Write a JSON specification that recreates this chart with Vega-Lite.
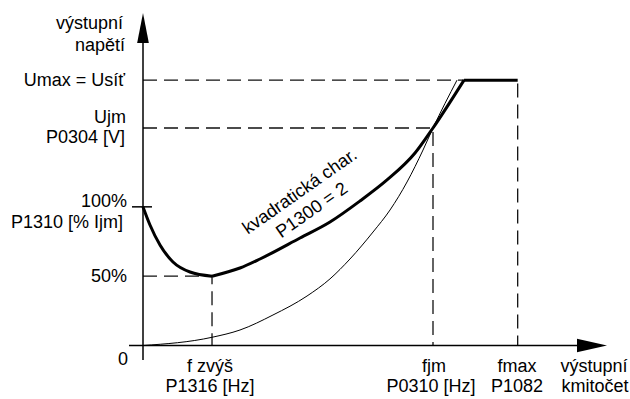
{
  "$schema": "https://vega.github.io/schema/vega-lite/v6.json",
  "width": 464,
  "height": 326.25,
  "autosize": {"type": "none"},
  "padding": {"left": 143, "top": 19.25, "right": 23, "bottom": 53.5},
  "background": "white",
  "config": {"view": {"stroke": null}, "text": {"font": "Liberation Sans", "fontSize": 18, "color": "black"}},
  "datasets": {
    "guides": [
      {"g": "umax", "o": 1, "f": 0, "u": 488},
      {"g": "umax", "o": 2, "f": 64.6, "u": 488},
      {"g": "umax", "o": 3, "f": 64.6, "u": 0},
      {"g": "ujm", "o": 1, "f": 0, "u": 400},
      {"g": "ujm", "o": 2, "f": 50, "u": 400},
      {"g": "ujm", "o": 3, "f": 50, "u": 0},
      {"g": "boost", "o": 1, "f": 0, "u": 127.5},
      {"g": "boost", "o": 2, "f": 11.9, "u": 127.5},
      {"g": "boost", "o": 3, "f": 11.9, "u": 0}
    ],
    "axes": [
      {"g": "yaxis", "o": 1, "f": 0, "u": -26.7},
      {"g": "yaxis", "o": 2, "f": 0, "u": 560},
      {"g": "xaxis", "o": 1, "f": -2.41, "u": 0},
      {"g": "xaxis", "o": 2, "f": 75.5, "u": 0},
      {"g": "tick", "o": 1, "f": -1.9, "u": 255},
      {"g": "tick", "o": 2, "f": 1.55, "u": 255}
    ],
    "thin": [
      {"f": 0, "u": 0},
      {"f": 11.9, "u": 15.1},
      {"f": 16.72, "u": 28.5},
      {"f": 22.41, "u": 56.1},
      {"f": 28.28, "u": 91},
      {"f": 32.24, "u": 122.5},
      {"f": 35.69, "u": 159.1},
      {"f": 39.66, "u": 208.7},
      {"f": 42.59, "u": 249.2},
      {"f": 45.52, "u": 300.7},
      {"f": 48.28, "u": 359.5},
      {"f": 50, "u": 400},
      {"f": 54.14, "u": 488}
    ],
    "thick": [
      {"seg": "A", "f": 0, "u": 255},
      {"seg": "A", "f": 1.207, "u": 221.6},
      {"seg": "A", "f": 2.931, "u": 184.8},
      {"seg": "A", "f": 5.172, "u": 153.6},
      {"seg": "A", "f": 8.103, "u": 135.2},
      {"seg": "A", "f": 11.9, "u": 127.5},
      {"seg": "B", "f": 11.9, "u": 127.5},
      {"seg": "B", "f": 16.72, "u": 142.5},
      {"seg": "B", "f": 20.17, "u": 159.1},
      {"seg": "B", "f": 27.07, "u": 197.7},
      {"seg": "B", "f": 32.24, "u": 227.1},
      {"seg": "B", "f": 37.41, "u": 265.7},
      {"seg": "B", "f": 42.07, "u": 304.4},
      {"seg": "B", "f": 46.9, "u": 354},
      {"seg": "B", "f": 50, "u": 400},
      {"seg": "B", "f": 55.35, "u": 488},
      {"seg": "C", "f": 55.35, "u": 488},
      {"seg": "C", "f": 64.6, "u": 488}
    ],
    "yarrow": [{"f": 0, "u": 583.9}],
    "xarrow": [{"f": 77.41, "u": 0}],
    "ylabels": [
      {"t": "výstupní", "f": -3.45, "u": 582.1},
      {"t": "napětí", "f": -3.1, "u": 541.6},
      {"t": "Umax = Usíť", "f": -3.1, "u": 477.2},
      {"t": "Ujm", "f": -2.93, "u": 409.2},
      {"t": "P0304 [V]", "f": -3.1, "u": 372.4},
      {"t": "100%", "f": -2.76, "u": 253.8},
      {"t": "P1310 [% Ijm]", "f": -3.45, "u": 217.0},
      {"t": "50%", "f": -2.76, "u": 117.3},
      {"t": "0", "f": -2.59, "u": -35.9}
    ],
    "xlabels": [
      {"t": "f zvýš", "f": 11.55, "u": -48.7},
      {"t": "P1316 [Hz]", "f": 11.55, "u": -85.5},
      {"t": "fjm", "f": 50.17, "u": -48.7},
      {"t": "P0310 [Hz]", "f": 49.66, "u": -85.5},
      {"t": "fmax", "f": 64.48, "u": -48.7},
      {"t": "P1082", "f": 64.48, "u": -85.5},
      {"t": "výstupní", "f": 77.76, "u": -48.7},
      {"t": "kmitočet", "f": 77.93, "u": -85.5}
    ],
    "note": [
      {"t": "kvadratická char.", "f": 27.59, "u": 274.9},
      {"t": "P1300 = 2", "f": 29.66, "u": 240.4}
    ]
  },
  "encoding": {
    "x": {"field": "f", "type": "quantitative", "scale": {"domain": [0, 80], "nice": false, "zero": false}, "axis": null},
    "y": {"field": "u", "type": "quantitative", "scale": {"domain": [0, 600], "nice": false, "zero": false}, "axis": null}
  },
  "layer": [
    {
      "data": {"name": "guides"},
      "mark": {"type": "line", "color": "#111", "strokeWidth": 1.3, "strokeDash": [14, 7], "interpolate": "linear"},
      "encoding": {"detail": {"field": "g"}, "order": {"field": "o"}}
    },
    {
      "data": {"name": "axes"},
      "mark": {"type": "line", "color": "black", "strokeWidth": 1.5, "interpolate": "linear"},
      "encoding": {"detail": {"field": "g"}, "order": {"field": "o"}}
    },
    {
      "data": {"name": "thin"},
      "mark": {"type": "line", "color": "black", "strokeWidth": 1, "interpolate": "monotone"},
      "encoding": {}
    },
    {
      "data": {"name": "thick"},
      "mark": {"type": "line", "color": "black", "strokeWidth": 3, "interpolate": "monotone", "strokeJoin": "round"},
      "encoding": {"detail": {"field": "seg"}}
    },
    {
      "data": {"name": "yarrow"},
      "mark": {"type": "point", "filled": true, "color": "black", "opacity": 1, "size": 900, "shape": "M0,-1L0.39,1L-0.39,1Z"}
    },
    {
      "data": {"name": "xarrow"},
      "mark": {"type": "point", "filled": true, "color": "black", "opacity": 1, "size": 900, "shape": "M1,0L-1,0.45L-1,-0.45Z"}
    },
    {
      "data": {"name": "ylabels"},
      "mark": {"type": "text", "align": "right", "baseline": "alphabetic"},
      "encoding": {"text": {"field": "t"}}
    },
    {
      "data": {"name": "xlabels"},
      "mark": {"type": "text", "align": "center", "baseline": "alphabetic"},
      "encoding": {"text": {"field": "t"}}
    },
    {
      "data": {"name": "note"},
      "mark": {"type": "text", "align": "center", "baseline": "alphabetic", "angle": -35},
      "encoding": {"text": {"field": "t"}}
    }
  ]
}
